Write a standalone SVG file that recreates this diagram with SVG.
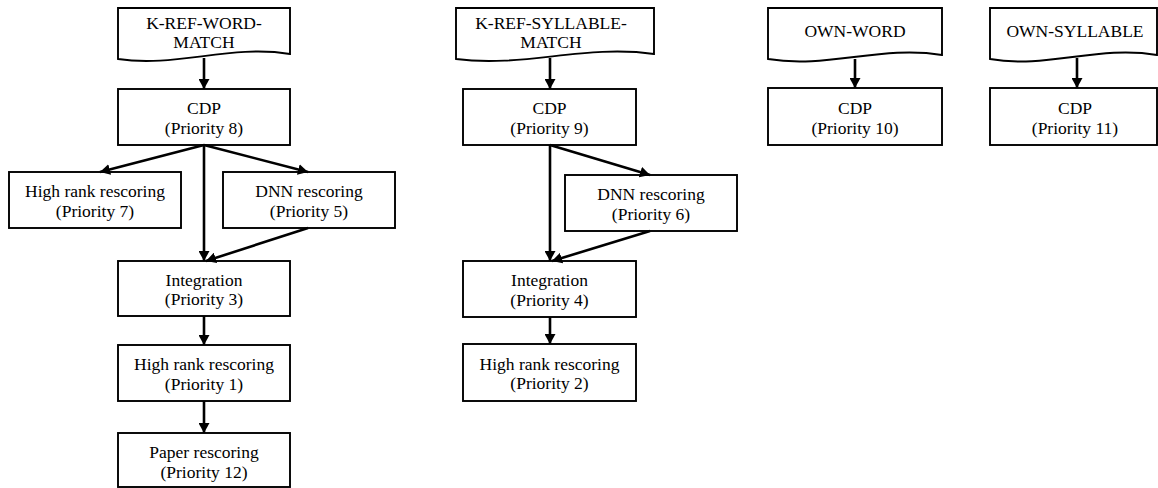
<svg xmlns="http://www.w3.org/2000/svg" width="1158" height="488" viewBox="0 0 1158 488">
<style>
.box{fill:#fff;stroke:#000;stroke-width:1.9}
.t{font-family:"Liberation Serif","Times New Roman",serif;font-size:17.5px;fill:#000;text-anchor:middle}
.c{fill:none;stroke:#000;stroke-width:2.6}
</style>
<defs>
<marker id="ah" viewBox="0 0 10 11" refX="10" refY="5.5" markerWidth="10" markerHeight="11" markerUnits="userSpaceOnUse" orient="auto">
<path d="M0,0 L10,5.5 L0,11 z" fill="#000"/>
</marker>
</defs>
<rect width="1158" height="488" fill="#fff"/>

<g id="doc-kref-word">
<path class="box" d="M118,8 H290 V54 C230,44 176,68 118,59 Z"/>
<text class="t" x="204" y="29">K-REF-WORD-</text>
<text class="t" x="204" y="48">MATCH</text>
</g>
<g id="cdp8">
<rect class="box" x="118" y="89" width="172" height="56"/>
<text class="t" x="204" y="114">CDP</text>
<text class="t" x="204" y="133.5">(Priority 8)</text>
</g>
<g id="hr7">
<rect class="box" x="9" y="172" width="172" height="56"/>
<text class="t" x="95" y="197">High rank rescoring</text>
<text class="t" x="95" y="216.5">(Priority 7)</text>
</g>
<g id="dnn5">
<rect class="box" x="223" y="172" width="172" height="56"/>
<text class="t" x="309" y="197">DNN rescoring</text>
<text class="t" x="309" y="216.5">(Priority 5)</text>
</g>
<g id="int3">
<rect class="box" x="118" y="261" width="172" height="55"/>
<text class="t" x="204" y="285.5">Integration</text>
<text class="t" x="204" y="305">(Priority 3)</text>
</g>
<g id="hr1">
<rect class="box" x="118" y="345" width="172" height="56"/>
<text class="t" x="204" y="370">High rank rescoring</text>
<text class="t" x="204" y="389.5">(Priority 1)</text>
</g>
<g id="paper12">
<rect class="box" x="118" y="433" width="172" height="54"/>
<text class="t" x="204" y="458">Paper rescoring</text>
<text class="t" x="204" y="477.5">(Priority 12)</text>
</g>

<g id="doc-kref-syllable">
<path class="box" d="M456,8 H654 V54 C585,44 523,68 456,59 Z"/>
<text class="t" x="551" y="29">K-REF-SYLLABLE-</text>
<text class="t" x="551" y="48">MATCH</text>
</g>
<g id="cdp9">
<rect class="box" x="463" y="89" width="173" height="56"/>
<text class="t" x="549.5" y="114">CDP</text>
<text class="t" x="549.5" y="133.5">(Priority 9)</text>
</g>
<g id="dnn6">
<rect class="box" x="565" y="175" width="172" height="56"/>
<text class="t" x="651" y="200">DNN rescoring</text>
<text class="t" x="651" y="219.5">(Priority 6)</text>
</g>
<g id="int4">
<rect class="box" x="463" y="261" width="173" height="56"/>
<text class="t" x="549.5" y="286">Integration</text>
<text class="t" x="549.5" y="305.5">(Priority 4)</text>
</g>
<g id="hr2">
<rect class="box" x="463" y="344" width="173" height="57"/>
<text class="t" x="549.5" y="369.5">High rank rescoring</text>
<text class="t" x="549.5" y="389">(Priority 2)</text>
</g>

<g id="doc-own-word">
<path class="box" d="M768,8 H942 V55 C881,45 827,69 768,59 Z"/>
<text class="t" x="855" y="37">OWN-WORD</text>
</g>
<g id="cdp10">
<rect class="box" x="768" y="88" width="174" height="57"/>
<text class="t" x="855" y="114">CDP</text>
<text class="t" x="855" y="133.5">(Priority 10)</text>
</g>
<g id="doc-own-syllable">
<path class="box" d="M990,8 H1157 V55 C1098,45 1047,69 990,59 Z"/>
<text class="t" x="1075" y="37">OWN-SYLLABLE</text>
</g>
<g id="cdp11">
<rect class="box" x="990" y="88" width="167" height="57"/>
<text class="t" x="1075" y="114">CDP</text>
<text class="t" x="1075" y="133.5">(Priority 11)</text>
</g>

<g id="connectors">
<path class="c" d="M204,58 V89" marker-end="url(#ah)"/>
<path class="c" d="M204,145 L100,172" marker-end="url(#ah)"/>
<path class="c" d="M204,145 L308,172" marker-end="url(#ah)"/>
<path class="c" d="M204,145 V261" marker-end="url(#ah)"/>
<path class="c" d="M308,228 L206,261" marker-end="url(#ah)"/>
<path class="c" d="M204,316 V345" marker-end="url(#ah)"/>
<path class="c" d="M204,401 V433" marker-end="url(#ah)"/>
<path class="c" d="M550,58 V89" marker-end="url(#ah)"/>
<path class="c" d="M550,145 L650,175" marker-end="url(#ah)"/>
<path class="c" d="M550,145 V261" marker-end="url(#ah)"/>
<path class="c" d="M650,231 L552,261" marker-end="url(#ah)"/>
<path class="c" d="M550,317 V344" marker-end="url(#ah)"/>
<path class="c" d="M855,59 V88" marker-end="url(#ah)"/>
<path class="c" d="M1077,58 V88" marker-end="url(#ah)"/>
</g>
</svg>
